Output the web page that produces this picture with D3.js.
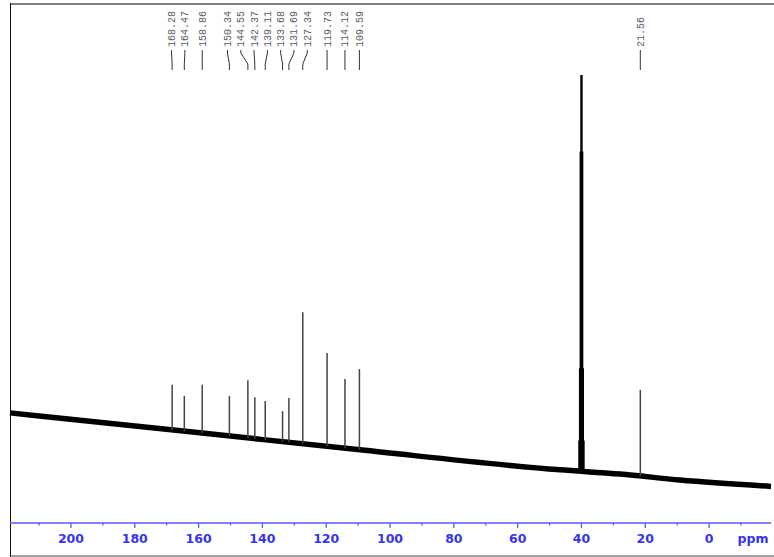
<!DOCTYPE html>
<html>
<head>
<meta charset="utf-8">
<script src="https://cdn.jsdelivr.net/npm/d3@7"></script>
<style>
  html, body { margin: 0; padding: 0; background: #fff; }
  svg { display: block; }
</style>
</head>
<body>
<svg id="chart" width="774" height="557"></svg>
<script>
// ---- data ----
const peakPpm = [168.28, 164.47, 158.86, 150.34, 144.55, 142.37, 139.11, 133.68, 131.69, 127.34, 119.73, 114.12, 109.59, 21.56];
const peakTop = [27.1, 24.5, 27.1, 24.5, 28.2, 24.2, 23.3, 20.9, 24.0, 44.2, 34.6, 28.5, 30.8, 25.9];
const peakLabels = ["168.28", "164.47", "158.86", "150.34", "144.55", "142.37", "139.11", "133.68", "131.69", "127.34", "119.73", "114.12", "109.59", "21.56"];
const solventPpm = [40.63, 40.42, 40.21, 40.00, 39.79, 39.58, 39.37];
const solventTop = [14, 31, 82, 100, 82, 31, 14];
const baselinePpm = [219.1, 159.6, 109.4, 46.7, 27.9, 9.1, -19.4];
const baselineVal = [20.5, 15.8, 11.8, 7.1, 6.1, 4.7, 3.2];
const majorTicks = [200, 180, 160, 140, 120, 100, 80, 60, 40, 20, 0];
const minorTicks = [210, 190, 170, 150, 130, 110, 90, 70, 50, 30, 10, -10];
const axisUnit = "ppm";

// ---- layout ----
const svg = d3.select("#chart");
const W = 774, H = 557;
const left = 10, right = 771;
const axisY = 523;

const x = d3.scaleLinear().domain([219.1, -19.4]).range([left, right]);
const y = d3.scaleLinear().domain([0, 100]).range([500, 75]);

const baseInterp = d3.scaleLinear().domain(baselinePpm).range(baselineVal);

// frame
svg.append("line").attr("x1", left).attr("x2", W).attr("y1", 4).attr("y2", 4)
  .attr("stroke", "#808080").attr("stroke-width", 1.8);
svg.append("line").attr("x1", left + 0.5).attr("x2", left + 0.5).attr("y1", 3).attr("y2", H)
  .attr("stroke", "#111").attr("stroke-width", 1);
svg.append("line").attr("x1", left).attr("x2", W).attr("y1", 556).attr("y2", 556)
  .attr("stroke", "#444").attr("stroke-width", 1.2);

// baseline (noise band)
const basePts = baselinePpm.map((p, i) => [p, baselineVal[i]]);
svg.append("path")
  .attr("d", d3.line().curve(d3.curveMonotoneX).x(d => x(d[0])).y(d => y(d[1]))(basePts))
  .attr("fill", "none").attr("stroke", "#000").attr("stroke-width", 5.5)
  .attr("stroke-linejoin", "round");

// solvent multiplet
svg.append("g").selectAll("line").data(solventPpm).join("line")
  .attr("x1", d => x(d)).attr("x2", d => x(d))
  .attr("y1", d => y(baseInterp(d)))
  .attr("y2", (d, i) => y(solventTop[i]))
  .attr("stroke", "#000").attr("stroke-width", 2.4);

// peaks
svg.append("g").selectAll("line").data(peakPpm).join("line")
  .attr("x1", d => x(d)).attr("x2", d => x(d))
  .attr("y1", d => y(baseInterp(d)))
  .attr("y2", (d, i) => y(peakTop[i]))
  .attr("stroke", "#444").attr("stroke-width", 1.5);

// peak labels, spread to avoid overlap
const gap = 13.3;
const items = peakPpm.map((p, i) => ({ i, px: x(p) })).sort((a, b) => a.px - b.px);
let clusters = items.map(d => ({ members: [d], center: d.px }));
const cl = c => c.center - (c.members.length - 1) * gap / 2;
const cr = c => c.center + (c.members.length - 1) * gap / 2;
let merged = true;
while (merged) {
  merged = false;
  for (let k = 0; k < clusters.length - 1; k++) {
    if (cr(clusters[k]) + gap > cl(clusters[k + 1]) + 0.01) {
      const m = clusters[k].members.concat(clusters[k + 1].members);
      clusters.splice(k, 2, { members: m, center: d3.mean(m, d => d.px) });
      merged = true;
      break;
    }
  }
}
const labelX = new Array(peakPpm.length);
clusters.forEach(c => c.members.forEach((d, j) => { labelX[d.i] = cl(c) + j * gap; }));

const lab = svg.append("g");
peakPpm.forEach((p, i) => {
  const lx = labelX[i], px = x(p);
  lab.append("text")
    .attr("transform", `translate(${lx},47) rotate(-90)`)
    .attr("dy", "0.35em")
    .attr("font-family", "Liberation Mono, DejaVu Sans Mono, monospace")
    .attr("font-size", 10)
    .attr("fill", "#5a5a66")
    .text(peakLabels[i]);
  lab.append("path")
    .attr("d", `M${lx},50 L${lx},53 L${px},64 L${px},70`)
    .attr("fill", "none").attr("stroke", "#333").attr("stroke-width", 1);
});

// axis
const blue = "#3434f0";
svg.append("line").attr("x1", left).attr("x2", right).attr("y1", axisY).attr("y2", axisY)
  .attr("stroke", "#5a5af0").attr("stroke-width", 1.3);
svg.append("g").selectAll("line").data(majorTicks).join("line")
  .attr("x1", d => x(d)).attr("x2", d => x(d)).attr("y1", axisY).attr("y2", axisY + 5)
  .attr("stroke", "#5a5af0").attr("stroke-width", 1.3);
svg.append("g").selectAll("line").data(minorTicks).join("line")
  .attr("x1", d => x(d)).attr("x2", d => x(d)).attr("y1", axisY).attr("y2", axisY + 2.5)
  .attr("stroke", "#5a5af0").attr("stroke-width", 1.3);
svg.append("g").selectAll("text").data(majorTicks).join("text")
  .attr("x", d => x(d)).attr("y", 543)
  .attr("text-anchor", "middle")
  .attr("font-family", "DejaVu Sans, sans-serif").attr("font-weight", "bold")
  .attr("font-size", 12.5).attr("fill", blue)
  .text(d => d);
svg.append("text").attr("x", 753).attr("y", 543).attr("text-anchor", "middle")
  .attr("font-family", "DejaVu Sans, sans-serif").attr("font-weight", "bold")
  .attr("font-size", 12.5).attr("fill", blue)
  .text(axisUnit);
</script>
</body>
</html>
